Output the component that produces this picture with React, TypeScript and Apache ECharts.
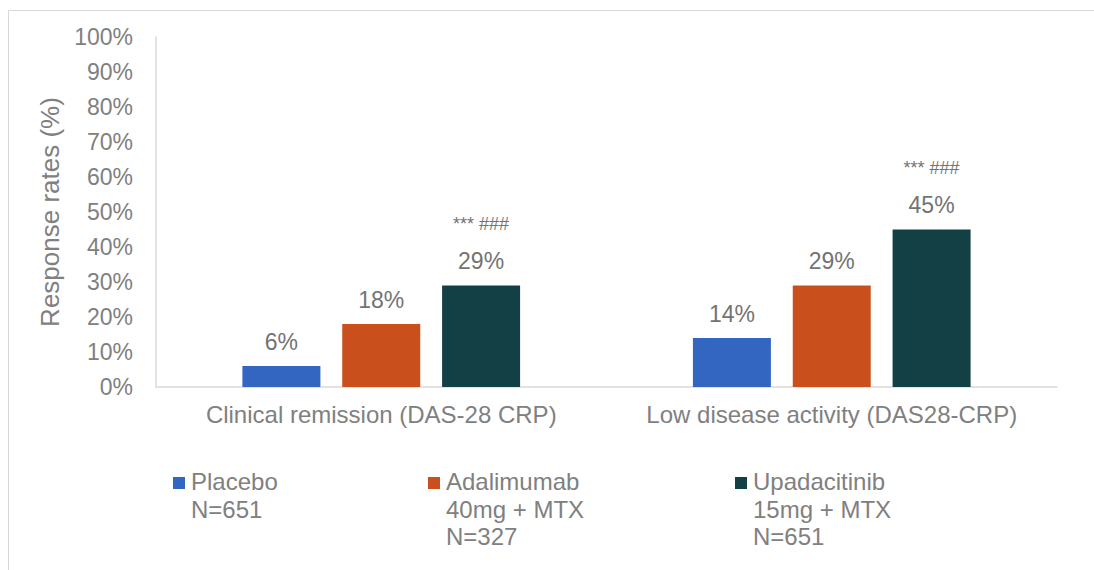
import React, { useEffect, useRef } from "react";
import * as echarts from "echarts";

const categories = ["Clinical remission (DAS-28 CRP)", "Low disease activity (DAS28-CRP)"];
const placeboValues = [6, 14];
const adalimumabValues = [18, 29];
const upadacitinibValues = [29, 45];
const upadacitinibMarks = ["*** ###", "*** ###"];
const seriesNames = ["Placebo", "Adalimumab", "Upadacitinib"];
const legendLines = [
  ["Placebo", "N=651"],
  ["Adalimumab", "40mg + MTX", "N=327"],
  ["Upadacitinib", "15mg + MTX", "N=651"],
];
const colors = ["#3366c0", "#c9501c", "#124045"];
const yTicks = { min: 0, max: 100, interval: 10 };

const FONT = "'Liberation Sans', Arial, sans-serif";

export default function App() {
  const ref = useRef<HTMLDivElement>(null);
  useEffect(() => {
    if (!ref.current) return;
    const chart = echarts.init(ref.current, undefined, { renderer: "svg" });
    const labelBase = {
      show: true,
      position: "top",
      distance: 13,
      fontSize: 23,
      color: "#737373",
      fontFamily: FONT,
      formatter: (p: any) => `${p.value}%`,
    };
    const legendX = [173, 428, 735];
    const graphic: any[] = [
      { type: "line", shape: { x1: 8.5, y1: 10.5, x2: 1094, y2: 10.5 }, style: { stroke: "#d9d9d9", lineWidth: 1 } },
      { type: "line", shape: { x1: 8.5, y1: 10.5, x2: 8.5, y2: 570 }, style: { stroke: "#d9d9d9", lineWidth: 1 } },
    ];
    legendLines.forEach((lines, i) => {
      graphic.push({
        type: "rect",
        shape: { x: legendX[i], y: 477, width: 12, height: 12 },
        style: { fill: colors[i] },
      });
      graphic.push({
        type: "text",
        x: legendX[i] + 18,
        y: 468,
        style: {
          text: lines.join("\n"),
          fontSize: 24,
          lineHeight: 27.5,
          fill: "#808080",
          fontFamily: FONT,
        },
      });
    });
    chart.setOption({
      animation: false,
      textStyle: { fontFamily: FONT },
      grid: { left: 156, right: 37, top: 37, bottom: 183, containLabel: false },
      xAxis: {
        type: "category",
        data: categories,
        axisLine: { show: true, lineStyle: { color: "#d9d9d9", width: 1.5 } },
        axisTick: { show: false },
        axisLabel: { fontSize: 24, color: "#808080", margin: 15, fontFamily: FONT, interval: 0, hideOverlap: false },
      },
      yAxis: {
        type: "value",
        min: yTicks.min,
        max: yTicks.max,
        interval: yTicks.interval,
        name: "Response rates (%)",
        nameLocation: "middle",
        nameGap: 93,
        nameTextStyle: { fontSize: 26, color: "#808080", fontFamily: FONT },
        axisLine: { show: true, lineStyle: { color: "#d9d9d9", width: 1.5 } },
        axisTick: { show: false },
        splitLine: { show: false },
        axisLabel: { fontSize: 23, color: "#808080", margin: 23, formatter: "{value}%", fontFamily: FONT },
      },
      series: [
        {
          name: seriesNames[0],
          type: "bar",
          data: placeboValues,
          barWidth: 78,
          barGap: "28%",
          itemStyle: { color: colors[0] },
          label: labelBase,
        },
        {
          name: seriesNames[1],
          type: "bar",
          data: adalimumabValues,
          barWidth: 78,
          barGap: "28%",
          itemStyle: { color: colors[1] },
          label: labelBase,
        },
        {
          name: seriesNames[2],
          type: "bar",
          data: upadacitinibValues,
          barWidth: 78,
          barGap: "28%",
          itemStyle: { color: colors[2] },
          label: {
            ...labelBase,
            distance: 10,
            formatter: (p: any) => `{s|${upadacitinibMarks[p.dataIndex]}}\n{v|${p.value}%}`,
            rich: {
              s: { fontSize: 18, lineHeight: 44, color: "#737373", fontFamily: FONT },
              v: { fontSize: 23, lineHeight: 30, color: "#737373", fontFamily: FONT },
            },
          },
        },
      ],
      graphic,
    });
    return () => chart.dispose();
  }, []);
  return (
    <div
      ref={ref}
      style={{ position: "fixed", left: 0, top: 0, width: 1094, height: 570, background: "#fff" }}
    />
  );
}
